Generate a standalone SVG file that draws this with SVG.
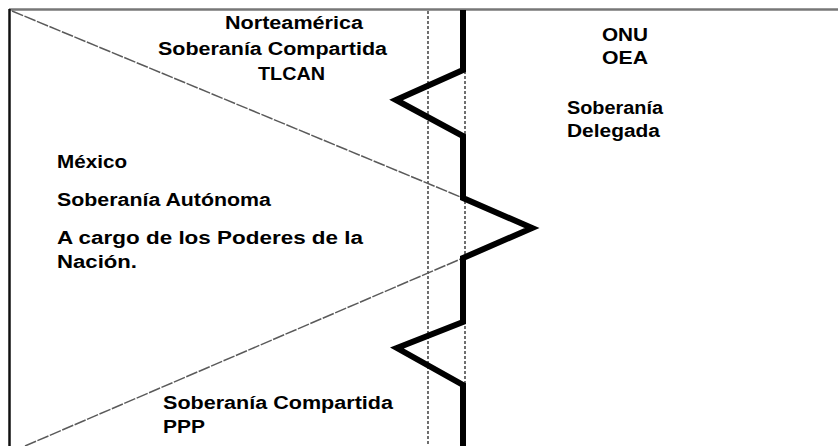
<svg xmlns="http://www.w3.org/2000/svg" width="838" height="446" viewBox="0 0 838 446">
<style>
text{font-family:"Liberation Sans",Arial,sans-serif;font-weight:bold;font-size:18px;fill:#000}
.frame{fill:none;stroke-width:2.5}
.dash{fill:none;stroke:#222;stroke-width:1.3;stroke-dasharray:3,2}
.diag{fill:none;stroke:#5a5a5a;stroke-width:1.5;stroke-dasharray:12,1.5}
.thick{fill:none;stroke:#000;stroke-width:6;stroke-linejoin:miter}
</style>
<rect width="838" height="446" fill="#fff"/>
<g id="connectors">
<line class="frame" x1="9" y1="9.5" x2="838" y2="9.5" stroke="#777"/>
<line class="frame" x1="9.5" y1="9" x2="9.5" y2="446" stroke="#111"/>
<line class="dash" x1="428" y1="11" x2="428" y2="446"/>
<line class="dash" x1="465" y1="11" x2="465" y2="446"/>
<line class="diag" x1="12" y1="11" x2="463" y2="198"/>
<line class="diag" x1="25" y1="446" x2="463" y2="258"/>
<polyline class="thick" points="463,10 463,70 396,100 463,136 463,198 532,228 463,258 463,322 397,348 463,385 463,446"/>
</g>
<g id="norteamerica">
<text x="225" y="29" textLength="138" lengthAdjust="spacingAndGlyphs">Norteamérica</text>
<text x="158" y="55" textLength="229" lengthAdjust="spacingAndGlyphs">Soberanía Compartida</text>
<text x="258" y="80" textLength="67" lengthAdjust="spacingAndGlyphs">TLCAN</text>
</g>
<g id="onu-oea">
<text x="602" y="41" textLength="46" lengthAdjust="spacingAndGlyphs">ONU</text>
<text x="602" y="64" textLength="46" lengthAdjust="spacingAndGlyphs">OEA</text>
<text x="567" y="114" textLength="96" lengthAdjust="spacingAndGlyphs">Soberanía</text>
<text x="567" y="137" textLength="93" lengthAdjust="spacingAndGlyphs">Delegada</text>
</g>
<g id="mexico">
<text x="57" y="168" textLength="70" lengthAdjust="spacingAndGlyphs">México</text>
<text x="57" y="206" textLength="214" lengthAdjust="spacingAndGlyphs">Soberanía Autónoma</text>
<text x="57" y="244" textLength="306" lengthAdjust="spacingAndGlyphs">A cargo de los Poderes de la</text>
<text x="57" y="268" textLength="80" lengthAdjust="spacingAndGlyphs">Nación.</text>
</g>
<g id="ppp">
<text x="163" y="409" textLength="230" lengthAdjust="spacingAndGlyphs">Soberanía Compartida</text>
<text x="163" y="433" textLength="42" lengthAdjust="spacingAndGlyphs">PPP</text>
</g>
</svg>
